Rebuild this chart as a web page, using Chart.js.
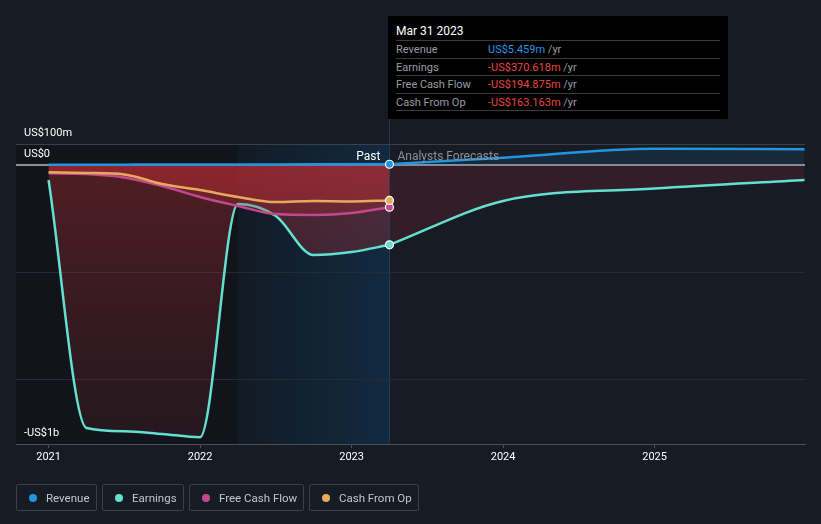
<!DOCTYPE html>
<html>
<head>
<meta charset="utf-8">
<script src="https://cdn.jsdelivr.net/npm/chart.js@4.4.1/dist/chart.umd.min.js"></script>
<style>
  html, body { margin: 0; padding: 0; background: #161b24; }
  body { width: 821px; height: 524px; overflow: hidden; font-family: Roboto, "Noto Sans", sans-serif; }
  #wrap { position: relative; width: 821px; height: 524px; }
  #chart { position: absolute; left: 0; top: 0; }
  .tip { position: absolute; left: 388px; top: 16px; width: 340px; height: 103px; background: #000; box-sizing: border-box; padding: 0 8px; }
  .tip .title { color: #fff; font-size: 12px; height: 24px; line-height: 30px; border-bottom: 1px solid #3a3a3a; }
  .tip .row { height: 16.5px; line-height: 17px; font-size: 11px; border-bottom: 1px solid #3a3a3a; color: #9a9da2; display: flex; }
  .tip .row .lab { width: 92px; }
  .tip .blue { color: #2b95e0; }
  .tip .red { color: #e8443f; }
  .legend { position: absolute; left: 16px; top: 484px; display: flex; gap: 5px; }
  .legend .item { height: 27px; border: 1px solid #3a404a; border-radius: 2px; box-sizing: border-box; padding-left: 12px; display: flex; align-items: center; color: #c3c7cd; font-size: 11.5px; }
  .legend .dot { width: 8px; height: 8px; border-radius: 50%; margin-right: 9px; }
</style>
</head>
<body>
<div id="wrap">
  <canvas id="chart" width="821" height="524"></canvas>
  <div class="tip">
    <div class="title">Mar 31 2023</div>
    <div class="row"><span class="lab">Revenue</span><span><span class="blue">US$5.459m</span> /yr</span></div>
    <div class="row"><span class="lab">Earnings</span><span><span class="red">-US$370.618m</span> /yr</span></div>
    <div class="row"><span class="lab">Free Cash Flow</span><span><span class="red">-US$194.875m</span> /yr</span></div>
    <div class="row"><span class="lab">Cash From Op</span><span><span class="red">-US$163.163m</span> /yr</span></div>
  </div>
  <div class="legend">
    <div class="item" style="width:81px"><span class="dot" style="background:#2394df"></span>Revenue</div>
    <div class="item" style="width:82px"><span class="dot" style="background:#63e0d0"></span>Earnings</div>
    <div class="item" style="width:115px"><span class="dot" style="background:#c2488d"></span>Free Cash Flow</div>
    <div class="item" style="width:110px"><span class="dot" style="background:#e6aa5e"></span>Cash From Op</div>
  </div>
</div>
<script>
// values in US$ millions, x in decimal years
const pastYears = [2021.0, 2021.25, 2021.5, 2021.75, 2022.0, 2022.25, 2022.5, 2022.75, 2023.0, 2023.25];
const revenuePast = [3.1, 3.4, 3.7, 4.0, 4.3, 4.6, 4.9, 5.1, 5.3, 5.459];
const earningsPast = [-68, -1225, -1240, -1253, -1268, -180, -236, -418, -404, -370.618];
const fcfPast = [-37, -40, -56, -96, -147, -189, -227, -231, -222, -194.875];
const cfoPast = [-32, -35, -42, -87, -115, -147, -171, -166, -168, -163.163];

const forecastYears = [2023.25, 2024.0, 2025.0, 2025.99];
const revenueForecast = [5.459, 36, 78, 76];
const earningsForecast = [-370.618, -166, -108, -68];

const xTicks = [2021, 2022, 2023, 2024, 2025];
const yTicks = [-1300, -1000, -500, 0, 100];
const yLabels = { '100': 'US$100m', '0': 'US$0', '-1300': '-US$1b' };

const pastEnd = 2023.25;
const highlightStart = 2022.25;

function pts(xs, ys) {
  return xs.map((x, i) => ({ x: x, y: ys[i] }));
}

// only the last past point gets a marker
function lastDot(ctx) {
  return ctx.dataIndex === ctx.dataset.data.length - 1 ? 4 : 0;
}

function redFill(a0, a1) {
  return function (ctx) {
    const chart = ctx.chart;
    const area = chart.chartArea;
    if (!area) return 'rgba(190,45,52,' + a0 + ')';
    const y0 = chart.scales.y.getPixelForValue(0);
    const g = chart.ctx.createLinearGradient(0, y0, 0, area.bottom);
    g.addColorStop(0, 'rgba(195,45,52,' + a0 + ')');
    g.addColorStop(1, 'rgba(150,40,50,' + a1 + ')');
    return g;
  };
}

const regions = {
  id: 'regions',
  beforeDraw(chart) {
    const c = chart.ctx, a = chart.chartArea, x = chart.scales.x;
    const xs = x.getPixelForValue(highlightStart);
    const xe = x.getPixelForValue(pastEnd);
    c.save();
    c.fillStyle = '#11151b';
    c.fillRect(a.left, a.top, xs - a.left, a.bottom - a.top);
    const g = c.createLinearGradient(xs, 0, xe, 0);
    g.addColorStop(0, '#121b25');
    g.addColorStop(1, '#122a40');
    c.fillStyle = g;
    c.fillRect(xs, a.top, xe - xs, a.bottom - a.top);
    c.strokeStyle = '#1d3d5c';
    c.lineWidth = 1;
    c.beginPath();
    c.moveTo(Math.round(xe) + 0.5, 118);
    c.lineTo(Math.round(xe) + 0.5, a.bottom);
    c.stroke();
    c.restore();
  },
  afterDraw(chart) {
    const c = chart.ctx, x = chart.scales.x;
    const xe = x.getPixelForValue(pastEnd);
    const y = chart.scales.y.getPixelForValue(0) - 8;
    c.save();
    c.font = '12px Roboto, sans-serif';
    c.textBaseline = 'middle';
    c.textAlign = 'right';
    c.fillStyle = '#ffffff';
    c.fillText('Past', xe - 9, y);
    c.textAlign = 'left';
    c.fillStyle = '#8a9099';
    c.fillText('Analysts Forecasts', xe + 8, y);
    c.restore();
  }
};

function series(label, xs, ys, color, fillColor, dots, order) {
  return {
    label: label,
    data: pts(xs, ys),
    borderColor: color,
    backgroundColor: fillColor,
    pointBackgroundColor: color,
    pointBorderColor: '#ffffff',
    pointBorderWidth: 1.2,
    fill: 'origin',
    pointRadius: dots ? lastDot : 0,
    order: order
  };
}

new Chart(document.getElementById('chart').getContext('2d'), {
  type: 'line',
  data: {
    datasets: [
      series('Revenue', pastYears, revenuePast, '#2394df', 'rgba(35,148,223,0.12)', true, 1),
      series('Revenue forecast', forecastYears, revenueForecast, '#2394df', 'rgba(35,148,223,0.12)', false, 2),
      series('Cash From Op', pastYears, cfoPast, '#e6aa5e', redFill(0.3, 0.1), true, 3),
      series('Free Cash Flow', pastYears, fcfPast, '#c2488d', redFill(0.3, 0.1), true, 4),
      series('Earnings', pastYears, earningsPast, '#63e0d0', redFill(0.36, 0.14), true, 5),
      series('Earnings forecast', forecastYears, earningsForecast, '#63e0d0', 'rgba(190,50,60,0.16)', false, 6)
    ]
  },
  options: {
    responsive: false,
    animation: false,
    events: [],
    layout: { padding: { left: 16, right: 16, top: 144, bottom: 50 } },
    elements: {
      line: { borderWidth: 2.5, cubicInterpolationMode: 'monotone' }
    },
    plugins: {
      legend: { display: false },
      tooltip: { enabled: false }
    },
    scales: {
      x: {
        type: 'linear',
        min: 2020.785,
        max: 2025.993,
        afterBuildTicks: s => { s.ticks = xTicks.map(v => ({ value: v })); },
        afterFit: s => { s.height = 30; },
        grid: { drawOnChartArea: false, color: '#4a505a', tickLength: 4 },
        border: { display: true, color: '#4a505a', width: 1 },
        ticks: {
          color: '#ffffff',
          font: { family: 'Roboto', size: 11 },
          padding: 3,
          maxRotation: 0,
          callback: v => String(v)
        }
      },
      y: {
        type: 'linear',
        min: -1300,
        max: 100,
        afterBuildTicks: s => { s.ticks = yTicks.map(v => ({ value: v })); },
        afterFit: s => { s.width = 0; },
        border: { display: false },
        grid: {
          drawTicks: false,
          color: ctx => {
            const v = ctx.tick && ctx.tick.value;
            if (v === 0) return '#8c8f94';
            if (v === 100) return '#3a404a';
            if (v === -1300) return '#4a505a';
            return '#252b34';
          },
          lineWidth: ctx => (ctx.tick && ctx.tick.value === 0 ? 2 : 1)
        },
        ticks: {
          mirror: true,
          padding: 8,
          labelOffset: -11,
          color: '#ffffff',
          font: { family: 'Roboto', size: 11 },
          autoSkip: false,
          callback: v => yLabels[String(v)] || ''
        }
      }
    }
  },
  plugins: [regions]
});
</script>
</body>
</html>
